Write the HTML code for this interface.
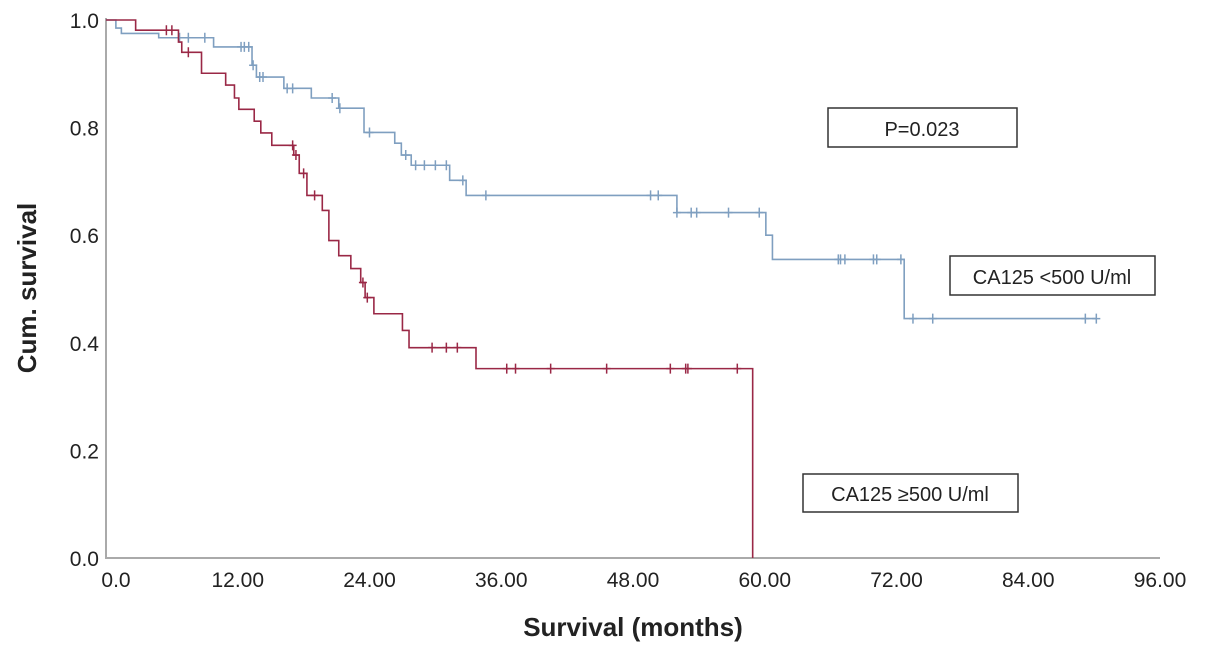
<!DOCTYPE html>
<html><head><meta charset="utf-8"><style>
body{margin:0;background:#fff;width:1205px;height:653px;overflow:hidden;font-family:"Liberation Sans",Arial,sans-serif}
</style></head><body>
<svg id="chart" width="1205" height="653" xmlns="http://www.w3.org/2000/svg" font-family="Liberation Sans, Arial, sans-serif">
<g id="axes"></g>
<g id="series"></g>
<text transform="translate(36,288) rotate(-90)" text-anchor="middle" font-size="26" font-weight="bold" fill="#222">Cum. survival</text>
<text x="633" y="636" text-anchor="middle" font-size="26" font-weight="bold" fill="#222">Survival (months)</text>
<g><rect x="828" y="108" width="189" height="39" fill="#fff" stroke="#333" stroke-width="1.5"/><text x="922" y="136" text-anchor="middle" font-size="20" fill="#222">P=0.023</text></g>
<g><rect x="950" y="256" width="205" height="39" fill="#fff" stroke="#333" stroke-width="1.5"/><text x="1052" y="284" text-anchor="middle" font-size="20" fill="#222">CA125 &lt;500 U/ml</text></g>
<g><rect x="803" y="474" width="215" height="38" fill="#fff" stroke="#333" stroke-width="1.5"/><text x="910" y="501" text-anchor="middle" font-size="20" fill="#222">CA125 ≥500 U/ml</text></g>
</svg>
<script>
const xTicks=[0,12,24,36,48,60,72,84,96];
const xTickLabels=["0.0","12.00","24.00","36.00","48.00","60.00","72.00","84.00","96.00"];
const yTicks=[0,0.2,0.4,0.6,0.8,1.0];
const yTickLabels=["0.0","0.2","0.4","0.6","0.8","1.0"];
const lowTimes=[0,0.9,1.4,4.8,9.8,13.3,13.7,16.2,18.7,21.2,23.5,26.3,26.9,27.8,31.3,32.8,52,60.1,60.7,72.7,90.2];
const lowSurv=[1.0,0.985,0.975,0.967,0.950,0.916,0.894,0.873,0.855,0.836,0.791,0.771,0.749,0.730,0.702,0.674,0.642,0.60,0.555,0.445,0.445];
const lowCensor=[6.7,7.5,9,12.3,12.6,13,13.4,14,14.3,16.5,17,20.6,21.3,24,27.3,28.2,29,30,31,32.5,34.6,49.6,50.3,52,53.3,53.8,56.7,59.5,66.7,66.9,67.3,69.9,70.2,72.4,73.5,75.3,89.2,90.2];
const highTimes=[0,2.7,6.6,6.9,8.7,10.9,11.7,12.1,13.5,14.1,15.1,17.1,17.6,18.3,19.7,20.3,21.2,22.3,23.2,23.6,24.4,27,27.6,33.7,58.9];
const highSurv=[1.0,0.981,0.959,0.940,0.901,0.879,0.855,0.834,0.812,0.79,0.767,0.749,0.715,0.674,0.646,0.59,0.562,0.538,0.512,0.484,0.454,0.423,0.391,0.352,0];
const highCensor=[5.5,6.0,7.5,17,17.3,18,19,23.4,23.8,29.7,31,32,36.5,37.3,40.5,45.6,51.4,52.8,53,57.5];

const X0=106,X1=1160,Y0=558,Y1=20;
const xs=t=>X0+t*(X1-X0)/96;
const ys=s=>Y0-s*(Y0-Y1);
const NS="http://www.w3.org/2000/svg";
function mk(tag,attrs,parent){const e=document.createElementNS(NS,tag);for(const k in attrs)e.setAttribute(k,attrs[k]);parent.appendChild(e);return e;}
const axes=document.getElementById('axes');
const series=document.getElementById('series');
const xa=mk('path',{d:`M${X0},${Y1-2}V${Y0}H${X1}`,fill:'none',stroke:'#aaa','stroke-width':2},axes);


xTicks.forEach((v,i)=>{const t=mk('text',{x:xs(v)+(i==0?10:0),y:587,'text-anchor':'middle','font-size':21,fill:'#222'},axes);t.textContent=xTickLabels[i];

});
yTicks.forEach((v,i)=>{const t=mk('text',{x:99,y:ys(v)+8,'text-anchor':'end','font-size':21,fill:'#222'},axes);t.textContent=yTickLabels[i];

});
function stepSurv(times,surv,t){let s=1;for(let i=0;i<times.length;i++){if(times[i]<=t)s=surv[i];}return s;}
function drawCurve(times,surv,cens,color,name){
  let d=`M${xs(times[0])},${ys(surv[0])}`;
  for(let i=1;i<times.length;i++){d+=`H${xs(times[i])}V${ys(surv[i])}`;}
  const p=mk('path',{d:d,fill:'none',stroke:color,'stroke-width':1.6},series);
  
  
  cens.forEach(c=>{const x=xs(c),y=ys(stepSurv(times,surv,c));
    const m=mk('path',{d:`M${x-4},${y}H${x+4}M${x},${y-5}V${y+5}`,stroke:color,'stroke-width':1.5},series);
    
    });
}
drawCurve(lowTimes,lowSurv,lowCensor,'#7f9fc0','ca125-low');
drawCurve(highTimes,highSurv,highCensor,'#9a2846','ca125-high');
</script>
</body></html>
